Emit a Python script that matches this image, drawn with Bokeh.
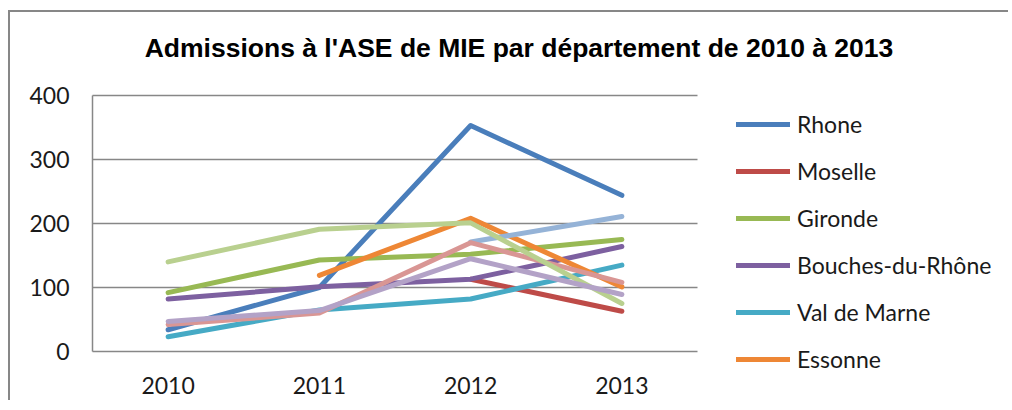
import numpy as np
from bokeh.plotting import figure
from bokeh.models import Legend, LegendItem, Range1d, FixedTicker, Label
from bokeh.embed import file_html
from bokeh.resources import INLINE

nan = np.nan
years = ["2010", "2011", "2012", "2013"]
y_ticks = [0, 100, 200, 300, 400]
title = "Admissions à l'ASE de MIE par département de 2010 à 2013"

rhone = [34, 100, 353, 244]
moselle = [nan, nan, 113, 63]
gironde = [92, 143, 152, 175]
bouches = [82, 101, 113, 164]
val_de_marne = [23, 65, 82, 135]
essonne = [nan, 119, 208, 101]
serie7 = [nan, nan, 171, 211]
serie8 = [42, 60, 170, 108]
serie9 = [140, 191, 201, 75]
serie10 = [47, 64, 145, 89]

names = ["Rhone", "Moselle", "Gironde", "Bouches-du-Rhône", "Val de Marne", "Essonne",
         None, None, None, None]
series = [rhone, moselle, gironde, bouches, val_de_marne, essonne,
          serie7, serie8, serie9, serie10]
colors = ["#4A7EBB", "#BE4B48", "#98B954", "#7D60A0", "#46AAC5", "#EE8735",
          "#95B3D7", "#D99694", "#B9D08F", "#B3A2C7"]

# category centres on a numeric scale (one unit per category)
xs = [i + 0.5 for i in range(len(years))]
n_cat = len(years)
y_max = y_ticks[-1]

W, H = 1000, 390
px_x = 151.25          # pixels per category
px_y = 0.64            # pixels per unit
x0_px, y0_px, ytop_px = 82, 339, 83

p = figure(width=W, height=H,
           x_range=Range1d(-x0_px / px_x, (W - x0_px) / px_x),
           y_range=Range1d(-(H - y0_px) / px_y, y_max + ytop_px / px_y),
           output_backend="svg", toolbar_location=None,
           min_border_left=0, min_border_right=0, min_border_top=0, min_border_bottom=0)
p.styles = {"border-left": "2px solid #878787", "border-top": "2px solid #878787",
            "margin-left": "8px", "margin-top": "10px"}

p.outline_line_color = None
p.background_fill_color = "white"
p.border_fill_color = "white"

p.xgrid.grid_line_color = None
p.ygrid.grid_line_color = None
grid_y = y_ticks[1:]
p.segment(x0=[0] * len(grid_y), x1=[n_cat] * len(grid_y), y0=grid_y, y1=grid_y,
          line_color="#878787", line_width=1.5)

p.yaxis.ticker = FixedTicker(ticks=y_ticks)
p.yaxis.bounds = (0, y_max)
p.yaxis.fixed_location = 0
p.xaxis.ticker = FixedTicker(ticks=xs)
p.xaxis.major_label_overrides = {x: y for x, y in zip(xs, years)}
p.xaxis.bounds = (0, n_cat)
p.xaxis.fixed_location = 0

for ax in (p.xaxis, p.yaxis):
    ax.axis_line_color = "#878787"
    ax.axis_line_width = 1.5
    ax.major_tick_line_color = None
    ax.minor_tick_line_color = None
    ax.major_tick_out = 0
    ax.major_tick_in = 0
    ax.major_label_text_font = "Lato"
    ax.major_label_text_font_size = "23px"
    ax.major_label_text_color = "#1a1a1a"
p.yaxis.major_label_standoff = 23
p.xaxis.major_label_standoff = 25

renderers = []
for vals, col in zip(series, colors):
    r = p.line(xs, vals, line_color=col, line_width=5, line_join="round", line_cap="round")
    renderers.append(r)

p.add_layout(Label(x=(508.5 - x0_px) / px_x, y=y_max + (ytop_px - 35) / px_y, text=title,
                   text_align="center", text_baseline="middle",
                   text_font="Liberation Sans", text_font_style="bold",
                   text_font_size="26.5px", text_color="#000000"))

items = [LegendItem(label=n, renderers=[r]) for n, r in zip(names, renderers) if n]
legend = Legend(items=items, location=(726, H - 361), glyph_width=54, glyph_height=20,
                label_height=20, spacing=19, label_standoff=7, padding=0, margin=0,
                label_text_font="Lato", label_text_font_size="23px",
                label_text_color="#1a1a1a", background_fill_alpha=0,
                border_line_alpha=0)
p.add_layout(legend)

open("out.html", "w").write(file_html(p, INLINE))
